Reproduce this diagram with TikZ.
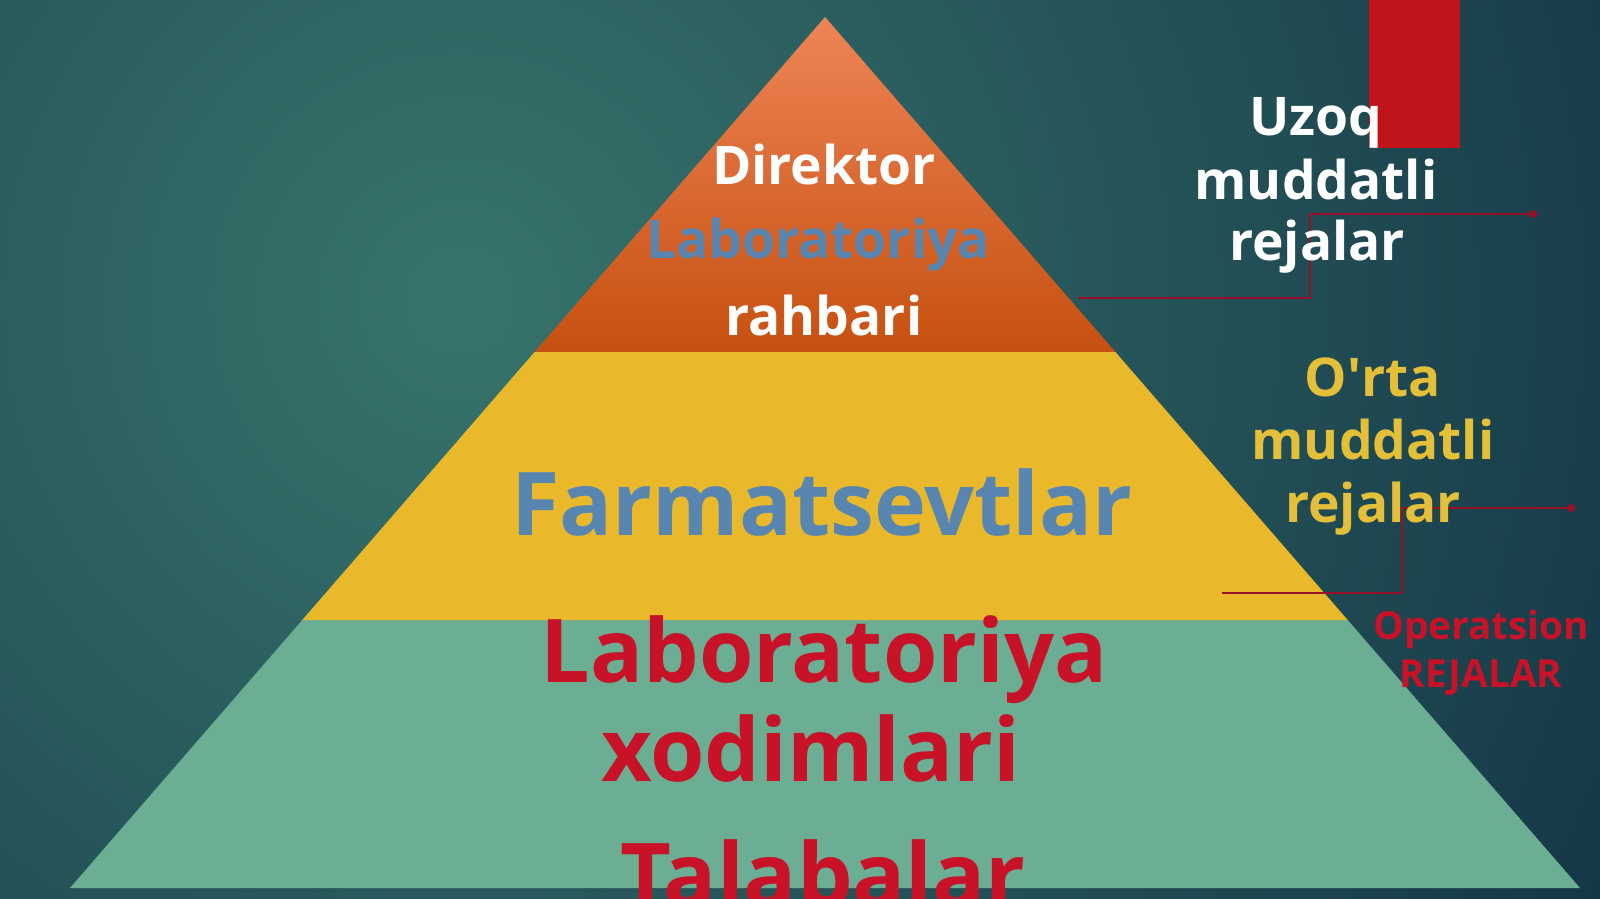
\documentclass[tikz,border=0pt]{standalone}
\usepackage{fontspec}
\setmainfont{Open Sans}
\usetikzlibrary{calc,arrows.meta}

\definecolor{bgLight}{RGB}{56,116,108}
\definecolor{bgDark}{RGB}{16,48,66}
\definecolor{topOrangeA}{RGB}{238,132,86}
\definecolor{topOrangeB}{RGB}{198,80,16}
\definecolor{midYellow}{RGB}{234,185,43}
\definecolor{lowTeal}{RGB}{107,174,147}
\definecolor{steelBlue}{RGB}{88,134,176}
\definecolor{planRed}{RGB}{200,18,40}
\definecolor{boxRed}{RGB}{192,20,26}
\definecolor{linkRed}{RGB}{150,16,40}
\definecolor{ortaYellow}{RGB}{228,192,58}

\tikzset{
  lvlbig/.style={font=\fontsize{66}{70}\selectfont\bfseries, anchor=base, inner sep=0pt},
  lvlmid/.style={font=\fontsize{40}{44}\selectfont\bfseries, anchor=base, inner sep=0pt},
  sidesmall/.style={font=\fontsize{29}{32}\selectfont\bfseries, anchor=base, inner sep=0pt},
  planlink/.style={draw=linkRed, line width=1.1pt, -{Circle[length=6pt]}},
}

\begin{document}
\begin{tikzpicture}[x=0.75pt,y=0.75pt,yscale=-1,xscale=1]
\useasboundingbox (0,0) rectangle (1600,899);
\clip (0,0) rectangle (1600,899);

% background
\fill [bgDark] (0,0) rectangle (1600,899);
\shade [inner color=bgLight, outer color=bgDark] (460,300) circle (1450);

% pyramid corners
\coordinate (apex) at (825,17);
\coordinate (baseL) at (70,888);
\coordinate (baseR) at (1580,888);
\coordinate (oL) at ($(apex)!0.3846!(baseL)$);
\coordinate (oR) at ($(apex)!0.3846!(baseR)$);
\coordinate (yL) at ($(apex)!0.6923!(baseL)$);
\coordinate (yR) at ($(apex)!0.6923!(baseR)$);

% layers
\fill [lowTeal] (yL) -- (yR) -- (baseR) -- (baseL) -- cycle;
\fill [midYellow] (oL) -- (oR) -- (yR) -- (yL) -- cycle;
\shade [top color=topOrangeA, bottom color=topOrangeB] (apex) -- (oR) -- (oL) -- cycle;

% red box top right
\fill [boxRed] (1369,0) rectangle (1460,148);

% connectors
\coordinate (uzoqS) at (1078,298);
\coordinate (uzoqK) at (1310,256);
\coordinate (uzoqE) at (1537,214);
\draw [planlink] (uzoqS) -| (uzoqK) |- (uzoqE);
\coordinate (ortaS) at (1222,593);
\coordinate (ortaK) at (1402,550);
\coordinate (ortaE) at (1575,508);
\draw [planlink] (ortaS) -| (ortaK) |- (ortaE);

% pyramid texts
\node [lvlmid, text=white] (direktor) at (824,184) {Direktor};
\node [lvlmid, text=steelBlue] (labRahbar) at (818,258) {Laboratoriya};
\node [lvlmid, text=white] (rahbari) at (824,335) {rahbari};
\node [lvlbig, text=steelBlue] (farm) at (822,535) {Farmatsevtlar};
\node [lvlbig, text=planRed] (labXod) at (824,682) {Laboratoriya};
\node [lvlbig, text=planRed] (xodim) at (811,781) {xodimlari};
\node [lvlbig, text=planRed] (talaba) at (823,906) {Talabalar};

% side texts
\node [lvlmid, text=white] (uzoq1) at (1316,135) {Uzoq};
\node [lvlmid, text=white] (uzoq2) at (1316,199) {muddatli};
\node [lvlmid, text=white] (uzoq3) at (1317,260) {rejalar};
\node [lvlmid, text=ortaYellow] (orta1) at (1373,396) {O\textquotesingle rta};
\node [lvlmid, text=ortaYellow] (orta2) at (1373,459) {muddatli};
\node [lvlmid, text=ortaYellow] (orta3) at (1373,522) {rejalar};
\node [sidesmall, text=planRed] (oper1) at (1481,639) {Operatsion};
\node [sidesmall, text=planRed] (oper2) at (1481,687) {REJALAR};

\end{tikzpicture}
\end{document}
